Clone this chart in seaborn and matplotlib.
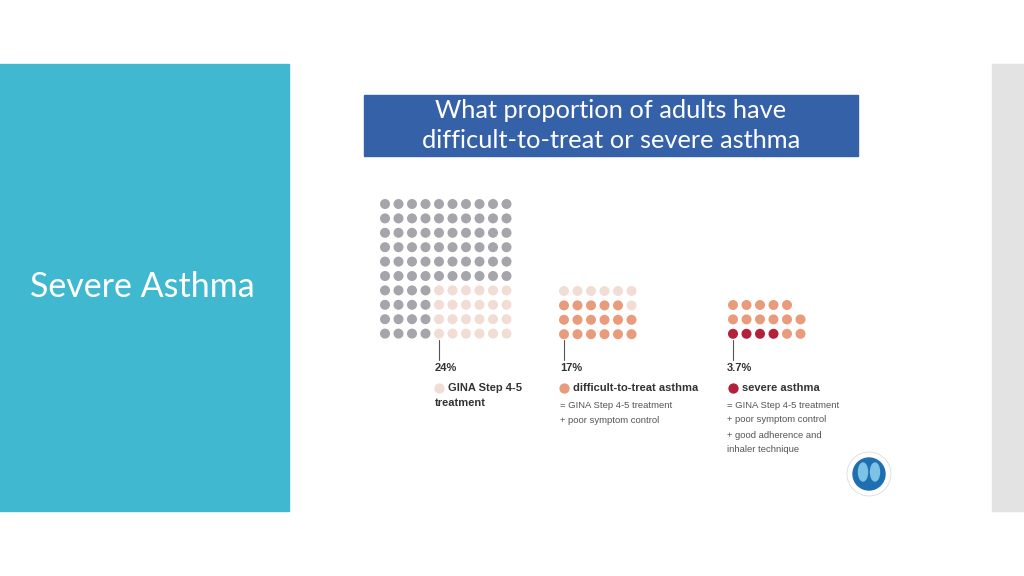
import numpy as np
import pandas as pd
import matplotlib.pyplot as plt
import matplotlib.patches as mpatches
import seaborn as sns

# waffle layouts: one string per row, one letter per dot
# g = no step 4-5, p = GINA step 4-5, o = difficult-to-treat, r = severe
grid_step45 = ["gggggggggg"] * 6 + ["ggggpppppp"] * 4
grid_difficult = ["pppppp", "ooooop", "oooooo", "oooooo"]
grid_severe = ["ooooo", "oooooo", "rrrroo"]

percents = ["24%", "17%", "3.7%"]
headings = ["GINA Step 4-5", "difficult-to-treat asthma", "severe asthma"]
notes_difficult = ["= GINA Step 4-5 treatment", "+ poor symptom control"]
notes_severe = ["= GINA Step 4-5 treatment", "+ poor symptom control",
                "+ good adherence and", "inhaler technique"]

title_lines = ["What proportion of adults have", "difficult-to-treat or severe asthma"]
side_title = "Severe Asthma"

palette = {"g": "#a5a5ab", "p": "#f2ddd5", "o": "#e99c7c", "r": "#b3203a"}

sns.set_theme(style="white")
plt.rcParams["font.family"] = ["Liberation Sans", "DejaVu Sans"]

# layout of the three waffles (pixel space)
origins = [(385, 204), (564, 291), (733, 305)]
dx, dy = 13.5, 14.4

rows = []
for gi, (grid, (x0, y0)) in enumerate(zip([grid_step45, grid_difficult, grid_severe], origins)):
    for r, line in enumerate(grid):
        for c, cat in enumerate(line):
            rows.append({"panel": gi, "x": x0 + c * dx, "y": y0 + r * dy, "cat": cat})
dots = pd.DataFrame(rows)

fig = plt.figure(figsize=(10.24, 5.76), dpi=100)
ax = fig.add_axes([0, 0, 1, 1])

# slide background pieces
ax.add_patch(mpatches.Rectangle((0, 64), 289, 447, color="#40b8cf", zorder=0))
ax.add_patch(mpatches.Rectangle((992, 64), 32, 447, color="#e3e3e3", zorder=0))
ax.text(30, 287, side_title, color="white", fontsize=24.5, family=["Lato", "DejaVu Sans"],
        ha="left", va="center")

# title banner
ax.add_patch(mpatches.Rectangle((364, 95), 494, 61, color="#3561a9", zorder=0))
for k, line in enumerate(title_lines):
    ax.text(611, 110 + k * 30, line, color="white", fontsize=18.3,
            family=["Lato", "DejaVu Sans"], ha="center", va="center")

sns.scatterplot(data=dots, x="x", y="y", hue="cat", palette=palette, s=52,
                linewidth=0, legend=False, ax=ax, zorder=3)
ax.set_xlim(0, 1024)
ax.set_ylim(576, 0)
ax.axis("off")

# leader ticks and labels
tick_x = [origins[0][0] + 4 * dx, origins[1][0], origins[2][0]]
for tx in tick_x:
    ax.plot([tx, tx], [340, 360], color="#555555", lw=0.8)

text_x = [435, 560, 727]
for i in range(3):
    ax.text(text_x[i], 368, percents[i], fontsize=8, fontweight="bold",
            color="#333333", ha="left", va="center")

heading_dot = ["p", "o", "r"]
for i in range(3):
    ax.scatter([tick_x[i]], [388], s=55, color=palette[heading_dot[i]], lw=0, zorder=3)
    ax.text(tick_x[i] + 9, 388, headings[i], fontsize=8, fontweight="bold",
            color="#333333", ha="left", va="center")
ax.text(text_x[0], 403, "treatment", fontsize=8, fontweight="bold",
        color="#333333", ha="left", va="center")

narrow = ["Liberation Sans Narrow", "Liberation Sans", "DejaVu Sans"]
for j, line in enumerate(notes_difficult):
    ax.text(text_x[1], 405 + j * 15.5, line, fontsize=6.8, color="#555555",
            family=narrow, ha="left", va="center")
for j, line in enumerate(notes_severe):
    ax.text(text_x[2], 405 + j * 15, line, fontsize=6.8, color="#555555",
            family=narrow, ha="left", va="center")

# GINA logo stand-in
ax.add_patch(mpatches.Circle((869, 474), 22, color="white", ec="#d8dde5", lw=0.6, zorder=2))
ax.add_patch(mpatches.Circle((869, 474), 16, color="#1f6fb0", zorder=3))
ax.add_patch(mpatches.Ellipse((863, 472), 9, 18, color="#7cc3e6", zorder=4))
ax.add_patch(mpatches.Ellipse((875, 472), 9, 18, color="#7cc3e6", zorder=4))

fig.savefig("out.png", dpi=100, facecolor="white")
